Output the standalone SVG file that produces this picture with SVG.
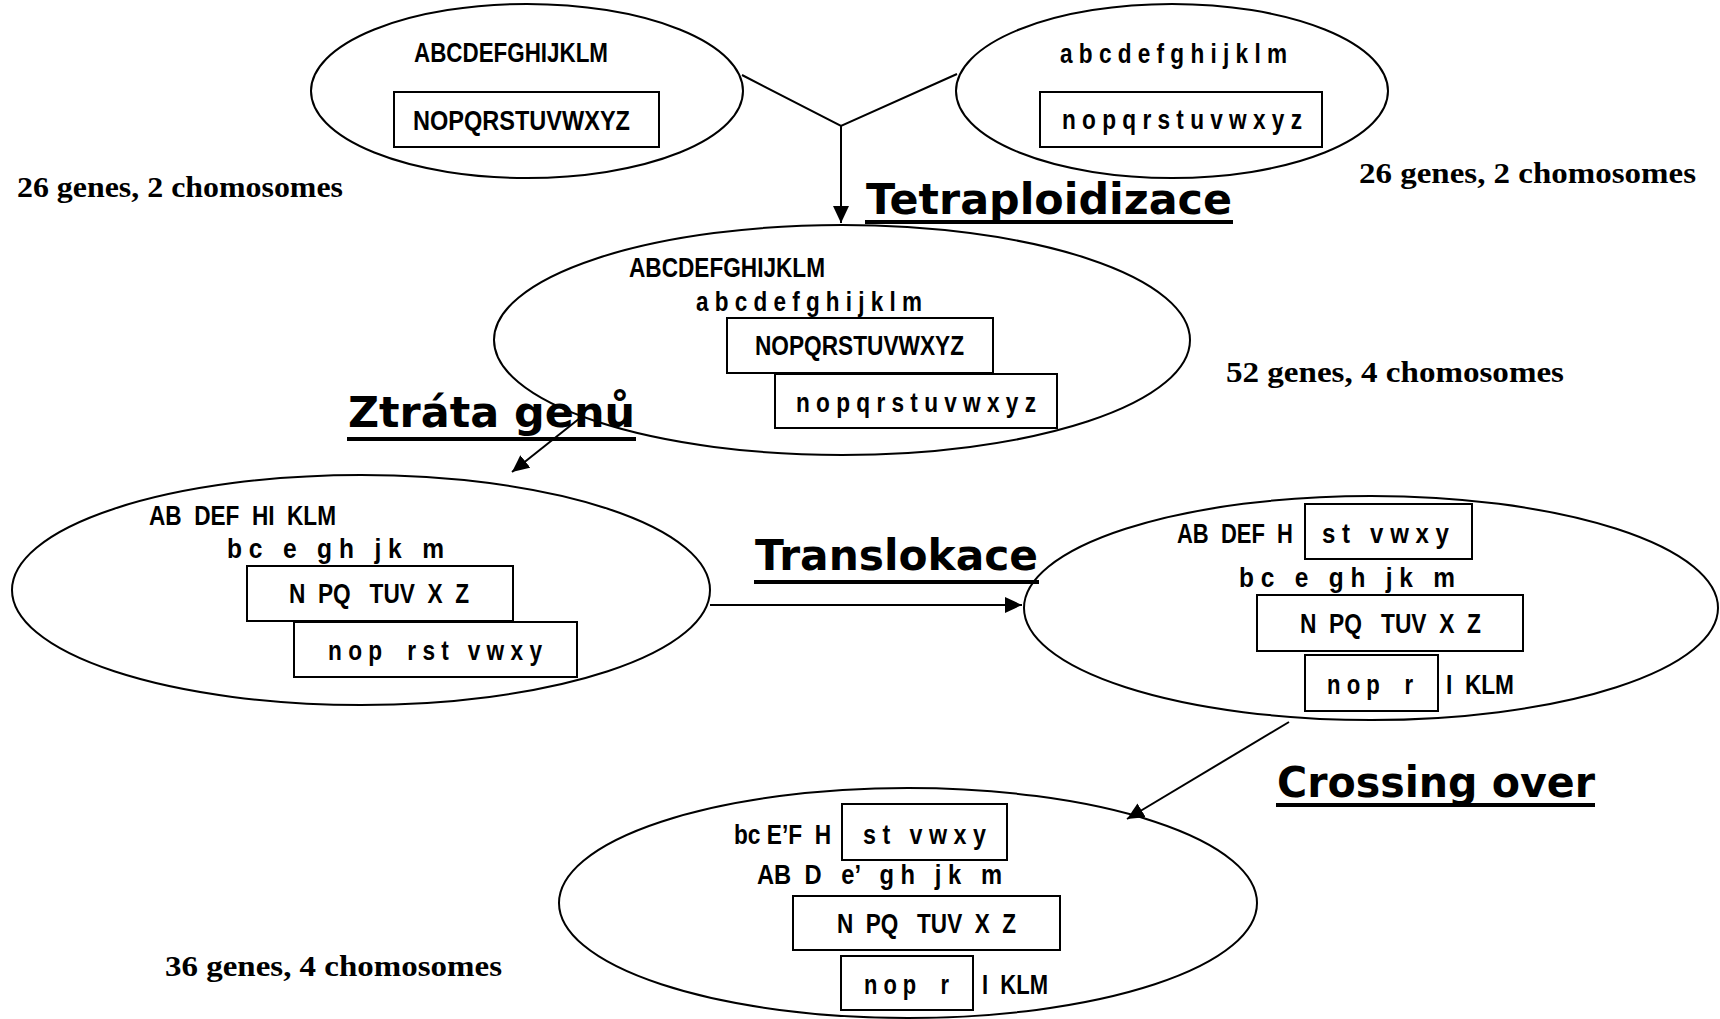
<svg xmlns="http://www.w3.org/2000/svg" width="1720" height="1019" viewBox="0 0 1720 1019" xml:space="preserve">
<style>
.ell{fill:none;stroke:#000;stroke-width:2}
.box{fill:#fff;stroke:#000;stroke-width:2}
.g{font-family:"Liberation Sans Narrow","Liberation Sans",Arial,sans-serif;font-weight:bold;font-size:27px;fill:#000;white-space:pre}
.cnt{font-family:"Liberation Serif","Times New Roman",serif;font-weight:bold;font-size:29px;fill:#000}
.ttl{font-family:"DejaVu Sans","Noto Sans",sans-serif;font-weight:bold;font-size:42px;fill:#000}
.ul{stroke:#000;stroke-width:4}
.ln{fill:none;stroke:#000;stroke-width:2}
</style>
<defs>
<marker id="ah" markerUnits="userSpaceOnUse" markerWidth="18" markerHeight="16" refX="17" refY="8" orient="auto">
<path d="M0,0 L17,8 L0,16 Z" fill="#000"/>
</marker>
</defs>
<rect width="1720" height="1019" fill="#fff"/>

<g id="connectors">
<polyline class="ln" points="742,75 841,126 957,74"/>
<line class="ln" x1="841" y1="126" x2="841" y2="223" marker-end="url(#ah)"/>
<line class="ln" x1="580" y1="418" x2="512" y2="472" marker-end="url(#ah)"/>
<line class="ln" x1="710" y1="605" x2="1022" y2="605" marker-end="url(#ah)"/>
<line class="ln" x1="1289" y1="722" x2="1127" y2="819" marker-end="url(#ah)"/>
</g>

<g id="node-top-left">
<ellipse class="ell" cx="527" cy="91" rx="216" ry="87"/>
<text class="g" x="414" y="62" textLength="194" lengthAdjust="spacingAndGlyphs">ABCDEFGHIJKLM</text>
<rect class="box" x="394" y="92" width="265" height="55"/>
<text class="g" x="413" y="130" textLength="217" lengthAdjust="spacingAndGlyphs">NOPQRSTUVWXYZ</text>
</g>

<g id="node-top-right">
<ellipse class="ell" cx="1172" cy="91" rx="216" ry="87"/>
<text class="g" x="1060" y="63" textLength="227" lengthAdjust="spacingAndGlyphs">a b c d e f g h i j k l m</text>
<rect class="box" x="1040" y="92" width="282" height="55"/>
<text class="g" x="1062" y="129" textLength="240" lengthAdjust="spacingAndGlyphs">n o p q r s t u v w x y z</text>
</g>

<g id="label-left-count">
<text class="cnt" x="17" y="197" textLength="326" lengthAdjust="spacingAndGlyphs">26 genes, 2 chomosomes</text>
</g>
<g id="label-right-count">
<text class="cnt" x="1359" y="183" textLength="337" lengthAdjust="spacingAndGlyphs">26 genes, 2 chomosomes</text>
</g>

<g id="label-tetraploidizace">
<text class="ttl" x="866" y="214" textLength="366" lengthAdjust="spacingAndGlyphs">Tetraploidizace</text>
<line class="ul" x1="865" y1="222" x2="1233" y2="222"/>
</g>

<g id="node-middle">
<ellipse class="ell" cx="842" cy="340" rx="348" ry="115"/>
<text class="g" x="629" y="277" textLength="196" lengthAdjust="spacingAndGlyphs">ABCDEFGHIJKLM</text>
<text class="g" x="696" y="311" textLength="226" lengthAdjust="spacingAndGlyphs">a b c d e f g h i j k l m</text>
<rect class="box" x="727" y="318" width="266" height="55"/>
<text class="g" x="755" y="355" textLength="209" lengthAdjust="spacingAndGlyphs">NOPQRSTUVWXYZ</text>
<rect class="box" x="775" y="374" width="282" height="54"/>
<text class="g" x="796" y="412" textLength="240" lengthAdjust="spacingAndGlyphs">n o p q r s t u v w x y z</text>
</g>

<g id="label-52">
<text class="cnt" x="1226" y="382" textLength="338" lengthAdjust="spacingAndGlyphs">52 genes, 4 chomosomes</text>
</g>

<g id="label-ztrata">
<text class="ttl" x="348" y="427" textLength="287" lengthAdjust="spacingAndGlyphs">Ztráta genů</text>
<line class="ul" x1="347" y1="439" x2="636" y2="439"/>
</g>

<g id="node-left">
<ellipse class="ell" cx="361" cy="590" rx="349" ry="115"/>
<text class="g" x="149" y="525" textLength="187" lengthAdjust="spacingAndGlyphs">AB  DEF  HI  KLM</text>
<text class="g" x="227" y="558" textLength="217" lengthAdjust="spacingAndGlyphs">b c   e   g h   j k   m</text>
<rect class="box" x="247" y="566" width="266" height="55"/>
<text class="g" x="289" y="603" textLength="180" lengthAdjust="spacingAndGlyphs">N  PQ   TUV  X  Z</text>
<rect class="box" x="294" y="622" width="283" height="55"/>
<text class="g" x="328" y="660" textLength="214" lengthAdjust="spacingAndGlyphs">n o p    r s t   v w x y</text>
</g>

<g id="label-translokace">
<text class="ttl" x="755" y="570" textLength="283" lengthAdjust="spacingAndGlyphs">Translokace</text>
<line class="ul" x1="754" y1="582" x2="1039" y2="582"/>
</g>

<g id="node-right">
<ellipse class="ell" cx="1371" cy="608" rx="347" ry="112"/>
<text class="g" x="1177" y="543" textLength="116" lengthAdjust="spacingAndGlyphs">AB  DEF  H</text>
<rect class="box" x="1305" y="504" width="167" height="55"/>
<text class="g" x="1322" y="543" textLength="127" lengthAdjust="spacingAndGlyphs">s t   v w x y</text>
<text class="g" x="1239" y="587" textLength="216" lengthAdjust="spacingAndGlyphs">b c   e   g h   j k   m</text>
<rect class="box" x="1257" y="595" width="266" height="56"/>
<text class="g" x="1300" y="633" textLength="181" lengthAdjust="spacingAndGlyphs">N  PQ   TUV  X  Z</text>
<rect class="box" x="1305" y="655" width="133" height="56"/>
<text class="g" x="1327" y="694" textLength="86" lengthAdjust="spacingAndGlyphs">n o p    r</text>
<text class="g" x="1446" y="694" textLength="68" lengthAdjust="spacingAndGlyphs">I  KLM</text>
</g>

<g id="label-crossing">
<text class="ttl" x="1277" y="797" textLength="318" lengthAdjust="spacingAndGlyphs">Crossing over</text>
<line class="ul" x1="1276" y1="805" x2="1595" y2="805"/>
</g>

<g id="node-bottom">
<ellipse class="ell" cx="908" cy="903" rx="349" ry="115"/>
<text class="g" x="734" y="844" textLength="97" lengthAdjust="spacingAndGlyphs">bc E’F  H</text>
<rect class="box" x="842" y="804" width="165" height="56"/>
<text class="g" x="863" y="844" textLength="123" lengthAdjust="spacingAndGlyphs">s t   v w x y</text>
<text class="g" x="757" y="884" textLength="245" lengthAdjust="spacingAndGlyphs">AB  D   e’   g h   j k   m</text>
<rect class="box" x="793" y="896" width="267" height="54"/>
<text class="g" x="837" y="933" textLength="179" lengthAdjust="spacingAndGlyphs">N  PQ   TUV  X  Z</text>
<rect class="box" x="841" y="956" width="132" height="54"/>
<text class="g" x="864" y="994" textLength="85" lengthAdjust="spacingAndGlyphs">n o p    r</text>
<text class="g" x="982" y="994" textLength="66" lengthAdjust="spacingAndGlyphs">I  KLM</text>
</g>

<g id="label-36">
<text class="cnt" x="165" y="976" textLength="337" lengthAdjust="spacingAndGlyphs">36 genes, 4 chomosomes</text>
</g>
</svg>
